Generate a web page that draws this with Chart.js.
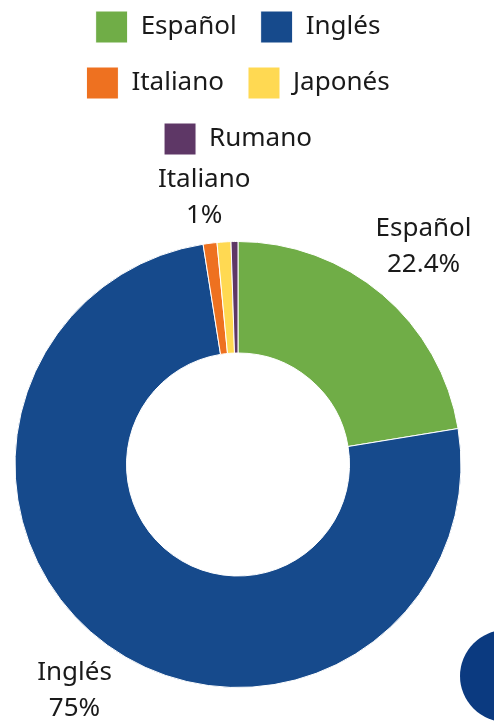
<!DOCTYPE html>
<html>
<head>
<meta charset="utf-8">
<script src="https://cdn.jsdelivr.net/npm/chart.js@4"></script>
<style>
	html, body { margin: 0; padding: 0; background: #fff; overflow: hidden; }
	body { width: 494px; height: 721px; position: relative; }
	#wrap { position: absolute; left: 0; top: -13px; width: 476px; height: 734px; }
	#dot { position: absolute; left: 460px; top: 630px; width: 92px; height: 92px; border-radius: 50%; background: #0b3a80; }
</style>
</head>
<body>
<div id="dot"></div>
<div id="wrap"><canvas id="idiomas"></canvas></div>
<script>
const languages = ["Español", "Inglés", "Italiano", "Japonés", "Rumano"];
const shares = [22.4, 75, 1, 1, 0.5];
const shareLabels = ["22.4%", "75%", "1%", null, null];
const sliceColors = ["#70ad47", "#164a8c", "#ee7120", "#ffd952", "#5e3766"];

const fontFamily = "'Noto Sans', sans-serif";
const textColor = "#1a1a1a";

// push the doughnut down below the legend
const legendGap = {
	id: "legendGap",
	beforeInit(chart) {
		const fit = chart.legend.fit;
		chart.legend.fit = function () {
			fit.bind(chart.legend)();
			this.height += 76;
		};
	},
};

// name + percentage outside the ring, like the office charts do
const outsideLabels = {
	id: "outsideLabels",
	afterDatasetsDraw(chart) {
		const ctx = chart.ctx;
		const arcs = chart.getDatasetMeta(0).data;
		const lineHeight = 36;
		const gap = 5;
		ctx.save();
		ctx.font = `26px ${fontFamily}`;
		ctx.fillStyle = textColor;
		ctx.textAlign = "center";
		ctx.textBaseline = "middle";
		arcs.forEach((arc, i) => {
			if (!shareLabels[i]) return;
			const { x, y, startAngle, endAngle, outerRadius } = arc.getProps(
				["x", "y", "startAngle", "endAngle", "outerRadius"],
				true
			);
			const mid = (startAngle + endAngle) / 2;
			const cos = Math.cos(mid);
			const sin = Math.sin(mid);
			const lines = [languages[i], shareLabels[i]];
			const w = Math.max(...lines.map((t) => ctx.measureText(t).width));
			const h = lines.length * lineHeight;
			const dist = outerRadius + gap + Math.abs(cos) * w / 2 + Math.abs(sin) * h / 2;
			const cx = x + cos * dist;
			const cy = y + sin * dist;
			lines.forEach((t, k) => {
				ctx.fillText(t, cx, cy + (k - (lines.length - 1) / 2) * lineHeight);
			});
		});
		ctx.restore();
	},
};

const canvas = document.getElementById("idiomas");
const chart = new Chart(canvas, {
	type: "doughnut",
	data: {
		labels: languages,
		datasets: [
			{
				data: shares,
				backgroundColor: sliceColors,
				borderColor: "#ffffff",
				borderWidth: 1,
			},
		],
	},
	options: {
		responsive: true,
		maintainAspectRatio: false,
		animation: false,
		cutout: "50%",
		layout: {
			padding: { top: 0, bottom: 33, left: 14, right: 14 },
		},
		plugins: {
			tooltip: { enabled: false },
			legend: {
				position: "top",
				labels: {
					boxWidth: 32,
					boxHeight: 32,
					padding: 24,
					color: textColor,
					font: { family: fontFamily, size: 26 },
				},
			},
		},
	},
	plugins: [legendGap, outsideLabels],
});
</script>
</body>
</html>
